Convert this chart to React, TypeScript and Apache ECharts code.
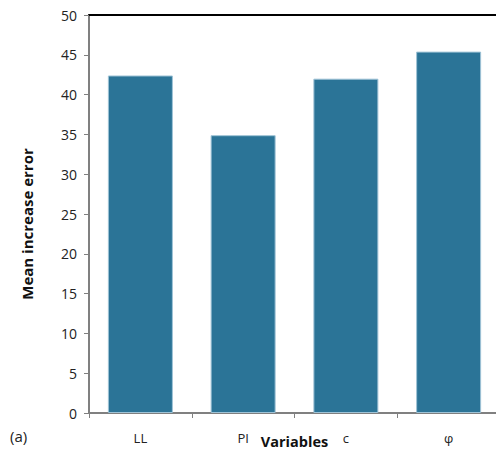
import React, { useEffect, useRef } from "react";
import * as echarts from "echarts";

const categories = ["LL", "PI", "c", "φ"];
const meanIncreaseError = [42.4, 34.9, 42.0, 45.4];
const yMin = 0;
const yMax = 50;
const yInterval = 5;

export default function App() {
  const ref = useRef<HTMLDivElement>(null);
  useEffect(() => {
    if (!ref.current) return;
    const chart = echarts.init(ref.current, undefined, { renderer: "svg" });
    const font = "'Open Sans', 'Liberation Sans', sans-serif";
    chart.setOption({
      animation: false,
      grid: { left: 89, top: 15, width: 411, height: 398, containLabel: false, outerBoundsMode: "none" },
      xAxis: [
        {
          type: "category",
          data: categories,
          position: "bottom",
          axisLine: { lineStyle: { color: "#808080", width: 2 } },
          axisTick: { show: true, length: 5, lineStyle: { color: "#808080", width: 1 } },
          axisLabel: { color: "#222", fontSize: 13, fontFamily: font, margin: 18 },
          name: "Variables",
          nameLocation: "middle",
          nameGap: 21,
          nameMoveOverlap: false,
          nameTextStyle: { color: "#111", fontSize: 14.5, fontWeight: "bold", fontFamily: font },
        },
        {
          type: "category",
          data: categories,
          position: "top",
          axisLine: { lineStyle: { color: "#000", width: 2 } },
          axisTick: { show: false },
          axisLabel: { show: false },
        },
      ],
      yAxis: {
        type: "value",
        min: yMin,
        max: yMax,
        interval: yInterval,
        axisLine: { show: true, lineStyle: { color: "#808080", width: 2 } },
        axisTick: { show: true, length: 5, lineStyle: { color: "#808080", width: 1 } },
        splitLine: { show: false },
        axisLabel: { color: "#222", fontSize: 14, fontFamily: font, margin: 12 },
        name: "Mean increase error",
        nameLocation: "middle",
        nameGap: 55,
        nameMoveOverlap: false,
        nameTextStyle: { color: "#111", fontSize: 15, fontWeight: "bold", fontFamily: font, padding: [0, 20, 0, 0] },
      },
      graphic: [
        {
          type: "text",
          left: 10,
          top: 428,
          style: { text: "(a)", fontSize: 15, fill: "#222", fontFamily: font },
        },
      ],
      series: [
        {
          type: "bar",
          data: meanIncreaseError,
          barWidth: 65,
          itemStyle: { color: "#2B7497", borderColor: "#9fc3d6", borderWidth: 1 },
        },
      ],
    });
    return () => chart.dispose();
  }, []);
  return <div ref={ref} style={{ width: 496, height: 450, position: "absolute", left: 0, top: 0 }} />;
}
